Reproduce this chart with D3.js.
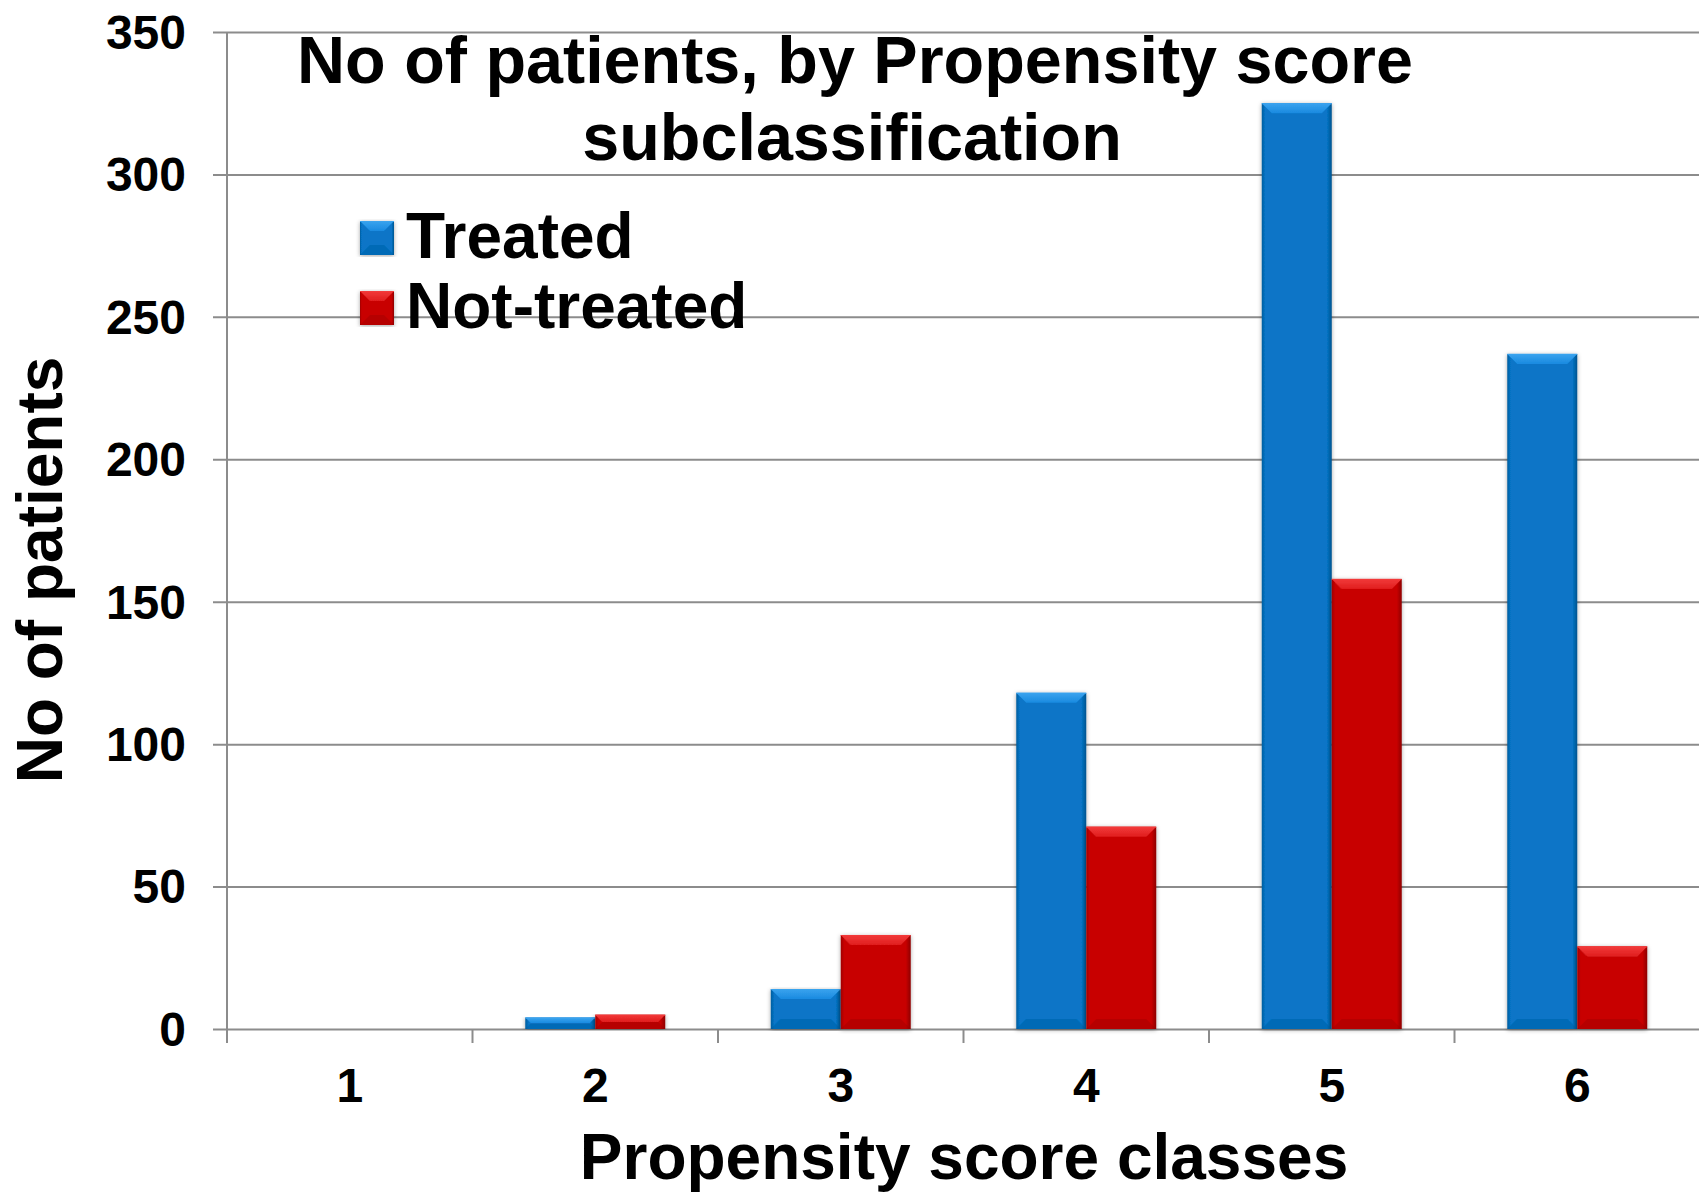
<!DOCTYPE html>
<html>
<head>
<meta charset="utf-8">
<script src="https://cdn.jsdelivr.net/npm/d3@7"></script>
<style>
  html, body { margin: 0; padding: 0; background: #ffffff; }
  svg { display: block; font-family: "Liberation Sans", Arial, sans-serif; font-weight: bold; }
</style>
</head>
<body>
<svg id="chart" width="1699" height="1193"></svg>
<script>
// Propensity score classes and patient counts per group
const categories = ["1", "2", "3", "4", "5", "6"];
const seriesNames = ["Treated", "Not-treated"];
const treated = [0, 4, 14, 118, 325, 237];
const notTreated = [0, 5, 33, 71, 158, 29];
const yTicks = [0, 50, 100, 150, 200, 250, 300, 350];
const titleLines = ["No of patients, by Propensity score", "subclassification"];
const xTitle = "Propensity score classes";
const yTitle = "No of patients";

const palette = {
  "Treated":     { base: "#0775c7", light: "#3aa3ee", mid: "#1a8ae0", dark: "#02548f", edge: "#035d9f" },
  "Not-treated": { base: "#c80606", light: "#f23a3a", mid: "#e01e1e", dark: "#8e0000", edge: "#a00202" }
};

const svg = d3.select("#chart");
const margin = { left: 227, top: 32, right: 1700, bottom: 1029 };

const x = d3.scaleBand().domain(categories).range([margin.left, margin.right]).padding(0);
const xs = d3.scaleBand().domain(seriesNames).range([0, x.bandwidth()])
  .paddingInner(0).paddingOuter(0.754);
const y = d3.scaleLinear().domain([0, 350]).range([margin.bottom, margin.top]);

const defs = svg.append("defs");
const shadow = defs.append("filter").attr("id", "barShadow")
  .attr("x", "-20%").attr("y", "-5%").attr("width", "140%").attr("height", "110%");
shadow.append("feDropShadow").attr("dx", 0).attr("dy", 1).attr("stdDeviation", 2.2)
  .attr("flood-color", "#000").attr("flood-opacity", 0.35);

Object.entries(palette).forEach(([name, c], i) => {
  const side = defs.append("linearGradient").attr("id", "side" + i)
    .attr("x1", "0").attr("x2", "1").attr("y1", "0").attr("y2", "0");
  side.append("stop").attr("offset", "0").attr("stop-color", c.edge);
  side.append("stop").attr("offset", "0.05").attr("stop-color", c.base);
  side.append("stop").attr("offset", "0.93").attr("stop-color", c.base);
  side.append("stop").attr("offset", "1").attr("stop-color", c.dark);
  const top = defs.append("linearGradient").attr("id", "top" + i)
    .attr("x1", "0").attr("x2", "0").attr("y1", "0").attr("y2", "1");
  top.append("stop").attr("offset", "0").attr("stop-color", c.light);
  top.append("stop").attr("offset", "1").attr("stop-color", c.mid);
});

// Horizontal gridlines (with outward tick on the left)
const yAxis = d3.axisLeft(y).tickValues(yTicks).tickSize(-(margin.right - margin.left)).tickFormat("");
const gy = svg.append("g").attr("transform", `translate(${margin.left},0)`).call(yAxis);
gy.select(".domain").remove();
gy.selectAll(".tick line")
  .attr("x1", -14)
  .attr("stroke", "#8c8c8c").attr("stroke-width", 2);

// Y tick labels
svg.append("g").selectAll("text").data(yTicks).join("text")
  .attr("x", 186).attr("y", d => y(d)).attr("dy", "0.35em")
  .attr("text-anchor", "end").attr("font-size", 48).attr("fill", "#000")
  .text(d => d);

// Y axis line
svg.append("line")
  .attr("x1", margin.left).attr("x2", margin.left)
  .attr("y1", y(350)).attr("y2", y(0) + 14)
  .attr("stroke", "#8c8c8c").attr("stroke-width", 2);

// X axis category boundary ticks
const boundaries = categories.map(c => x(c)).concat([margin.right]);
svg.append("g").selectAll("line").data(boundaries).join("line")
  .attr("x1", d => d).attr("x2", d => d)
  .attr("y1", y(0)).attr("y2", y(0) + 14)
  .attr("stroke", "#8c8c8c").attr("stroke-width", 2);

// X tick labels
svg.append("g").selectAll("text").data(categories).join("text")
  .attr("x", d => x(d) + x.bandwidth() / 2).attr("y", 1102)
  .attr("text-anchor", "middle").attr("font-size", 48).attr("fill", "#000")
  .text(d => d);

// Bars with bevelled edges
function bevelBar(g, bx, by, bw, bh, idx) {
  if (bh <= 0) return;
  const b = Math.min(10, bh / 2, bw / 2);
  const c = palette[seriesNames[idx]];
  const bar = g.append("g").attr("filter", "url(#barShadow)");
  bar.append("rect").attr("x", bx).attr("y", by).attr("width", bw).attr("height", bh)
    .attr("fill", `url(#side${idx})`);
  bar.append("polygon")
    .attr("points", [[bx, by], [bx + bw, by], [bx + bw - b, by + b], [bx + b, by + b]].join(" "))
    .attr("fill", `url(#top${idx})`);
  bar.append("polygon")
    .attr("points", [[bx, by + bh], [bx + bw, by + bh], [bx + bw - b, by + bh - b], [bx + b, by + bh - b]].join(" "))
    .attr("fill", c.dark).attr("opacity", 0.3);
  bar.append("line").attr("x1", bx).attr("x2", bx + bw).attr("y1", by + 0.5).attr("y2", by + 0.5)
    .attr("stroke", c.light).attr("stroke-width", 1);
}

const seriesData = [treated, notTreated];
const barsG = svg.append("g");
categories.forEach((cat, ci) => {
  seriesNames.forEach((s, si) => {
    const v = seriesData[si][ci];
    bevelBar(barsG, x(cat) + xs(s), y(v), xs.bandwidth(), y(0) - y(v), si);
  });
});

// Title
svg.append("text").attr("x", 855).attr("y", 83).attr("text-anchor", "middle")
  .attr("font-size", 66.5).attr("fill", "#000").text(titleLines[0]);
svg.append("text").attr("x", 852).attr("y", 160).attr("text-anchor", "middle")
  .attr("font-size", 66.5).attr("fill", "#000").text(titleLines[1]);

// Legend
const legend = svg.append("g");
seriesNames.forEach((s, i) => {
  const ly = 221 + i * 70;
  bevelBar(legend, 360, ly, 34, 34, i);
  legend.append("text").attr("x", 406).attr("y", ly + 37)
    .attr("font-size", 64).attr("fill", "#000").text(s);
});

// Axis titles
svg.append("text").attr("x", 964).attr("y", 1179).attr("text-anchor", "middle")
  .attr("font-size", 64).attr("fill", "#000").text(xTitle);
svg.append("text").attr("transform", "translate(62,570) rotate(-90)")
  .attr("text-anchor", "middle").attr("font-size", 64).attr("fill", "#000").text(yTitle);
</script>
</body>
</html>
